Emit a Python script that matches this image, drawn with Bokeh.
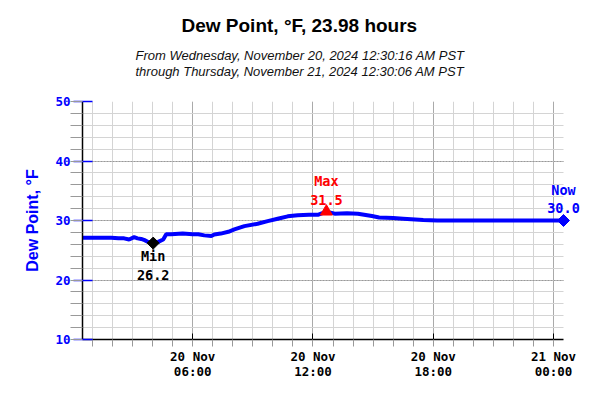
import math
import pandas as pd
from bokeh.plotting import figure
from bokeh.models import (ColumnDataSource, FixedTicker, DatetimeTickFormatter,
                          Title, Label)
from bokeh.embed import file_html
from bokeh.resources import INLINE

# ---------------- data ----------------
day0 = pd.Timestamp("2024-11-20 00:00:00")
hours = [0.504, 1.0, 1.5, 1.94, 2.3, 2.58, 2.83, 3.08, 3.25, 3.43, 3.6, 3.78,
         4.03, 4.28, 4.53, 4.68, 4.93, 5.5, 6.0, 6.28, 6.58, 6.93, 7.08, 7.4,
         7.78, 8.08, 8.58, 9.24, 9.74, 10.24, 10.74, 11.24, 11.8, 12.24, 12.67,
         13.08, 13.7, 14.24, 14.94, 15.3, 16.0, 16.5, 17.5, 18.2, 19.0, 20.0,
         21.0, 22.0, 23.0, 24.0, 24.497]
dew_point = [27.1, 27.1, 27.1, 27.1, 27.0, 27.0, 26.8, 27.2, 27.0, 26.9, 26.7,
             26.4, 26.2, 26.4, 26.8, 27.7, 27.7, 27.8, 27.7, 27.7, 27.5, 27.4,
             27.65, 27.8, 28.1, 28.5, 29.05, 29.45, 29.9, 30.3, 30.7, 30.9,
             30.95, 30.95, 31.5, 31.15, 31.2, 31.15, 30.75, 30.5, 30.4, 30.3,
             30.1, 30.0, 30.0, 30.0, 30.0, 30.0, 30.0, 30.0, 30.0]

min_hour, min_value = 4.03, 26.2
max_hour, max_value = 12.67, 31.5
now_hour, now_value = 24.497, 30.0

start_hour, end_hour = 0.504, 24.497
y_major = [10, 20, 30, 40, 50]
y_minor = [v for v in range(10, 51, 2)]
x_major_hours = [6, 12, 18, 24]
x_minor_hours = list(range(1, 25))

title_text = "Dew Point, °F, 23.98 hours"
sub_text = ("From Wednesday, November 20, 2024 12:30:16 AM PST\n"
            "through Thursday, November 21, 2024 12:30:06 AM PST")
y_label = "Dew Point, °F"


def ts(h):
    return day0 + pd.Timedelta(hours=h)


def ms(h):
    return ts(h).value / 1e6


times = [ts(h) for h in hours]
src = ColumnDataSource(dict(t=times, v=dew_point))

# ---------------- figure ----------------
MONO = "DejaVu Sans Mono"
SANS = "Liberation Sans"

W, H = 584, 384
LEFT, TOP, BOTTOM = 82, 101, 45
PLOT_RIGHT = 563          # where the time axis ends
FRAME_RIGHT = 581         # extra room so the "Now" text is not clipped
px_per_hour = (PLOT_RIGHT - LEFT) / (end_hour - start_hour)
range_end_hour = end_hour + (FRAME_RIGHT - PLOT_RIGHT) / px_per_hour

p = figure(width=W, height=H, x_axis_type="datetime",
           x_range=(ts(start_hour), ts(range_end_hour)), y_range=(10, 50),
           output_backend="svg", toolbar_location=None, title=None,
           min_border_left=LEFT, min_border_right=W - FRAME_RIGHT,
           min_border_top=TOP, min_border_bottom=BOTTOM)
p.outline_line_color = None
p.background_fill_color = "white"

# titles (added nearest-first): spacer, subtitle, main title
p.add_layout(Title(text=" ", text_font_size="10px", standoff=4), "above")
p.add_layout(Title(text=sub_text, align="left", offset=53, text_font=SANS,
                   text_font_style="italic", text_font_size="13px",
                   text_line_height=1.12, text_color="#111111",
                   standoff=10), "above")
p.add_layout(Title(text=title_text, align="left", offset=99, text_font=SANS,
                   text_font_style="bold", text_font_size="19px",
                   text_color="black", standoff=10), "above")

# axes
p.xaxis.bounds = (ms(start_hour), ms(end_hour))
p.xaxis.ticker = FixedTicker(ticks=[ms(h) for h in x_major_hours],
                             minor_ticks=[ms(h) for h in x_minor_hours])
fmt = "%d %b\n%H:%M"
p.xaxis.formatter = DatetimeTickFormatter(
    microseconds=fmt, milliseconds=fmt, seconds=fmt, minsec=fmt, minutes=fmt,
    hourmin=fmt, hours=fmt, days=fmt, months=fmt, years=fmt)
p.xaxis.axis_line_color = "black"
p.xaxis.axis_line_width = 1.5
p.xaxis.major_tick_line_color = "black"
p.xaxis.major_tick_in = 6
p.xaxis.major_tick_out = 6
p.xaxis.minor_tick_line_color = "#999999"
p.xaxis.minor_tick_in = 0
p.xaxis.minor_tick_out = 7
p.xaxis.major_label_text_font = MONO
p.xaxis.major_label_text_font_style = "bold"
p.xaxis.major_label_text_font_size = "12.5px"
p.xaxis.major_label_text_color = "black"
p.xaxis.major_label_text_line_height = 1.05
p.xaxis.major_label_standoff = 2

p.yaxis.ticker = FixedTicker(ticks=y_major, minor_ticks=y_minor)
p.yaxis.axis_line_color = "black"
p.yaxis.axis_line_width = 1.5
p.yaxis.major_tick_line_color = "blue"
p.yaxis.major_tick_line_width = 1.5
p.yaxis.major_tick_in = 10
p.yaxis.major_tick_out = 9
p.yaxis.minor_tick_line_color = "#999999"
p.yaxis.minor_tick_in = 0
p.yaxis.minor_tick_out = 12
p.yaxis.major_label_text_font = MONO
p.yaxis.major_label_text_font_style = "bold"
p.yaxis.major_label_text_font_size = "12.5px"
p.yaxis.major_label_text_color = "blue"
p.yaxis.major_label_standoff = 0
p.yaxis.axis_label = y_label
p.yaxis.axis_label_text_font = SANS
p.yaxis.axis_label_text_font_style = "bold"
p.yaxis.axis_label_text_font_size = "16px"
p.yaxis.axis_label_text_color = "blue"
p.yaxis.axis_label_standoff = 11

# grids
p.xgrid.grid_line_color = "#aaaaaa"
p.xgrid.minor_grid_line_color = "#d4d4d4"
p.ygrid.grid_line_color = "#999999"
p.ygrid.grid_line_dash = "2 1"
p.ygrid.minor_grid_line_color = "#d4d4d4"
p.ygrid.cross_bounds = (ms(start_hour), ms(end_hour))

# data line
p.line("t", "v", source=src, line_color="#0000ff", line_width=4)

# markers
p.scatter([ts(min_hour)], [min_value], marker="square", angle=math.pi / 4,
          size=8.5, fill_color="black", line_color="black")
p.scatter([ts(max_hour)], [max_value], marker="triangle", size=12,
          fill_color="red", line_color="red")
p.scatter([ts(now_hour)], [now_value], marker="square", angle=math.pi / 4,
          size=8.5, fill_color="blue", line_color="blue")


def lab(h, v, text, color, yoff):
    p.add_layout(Label(x=ms(h), y=v, text=text, text_color=color,
                       text_font=MONO, text_font_style="bold",
                       text_font_size="13.5px", text_align="center",
                       text_baseline="middle", y_offset=yoff))


lab(min_hour, min_value, "Min", "black", -13)
lab(min_hour, min_value, f"{min_value:.1f}", "black", -32)
lab(max_hour, max_value, "Max", "red", 31)
lab(max_hour, max_value, f"{max_value:.1f}", "red", 12)
lab(now_hour, now_value, "Now", "blue", 31)
lab(now_hour, now_value, f"{now_value:.1f}", "blue", 13)

open("out.html", "w").write(file_html(p, INLINE))
